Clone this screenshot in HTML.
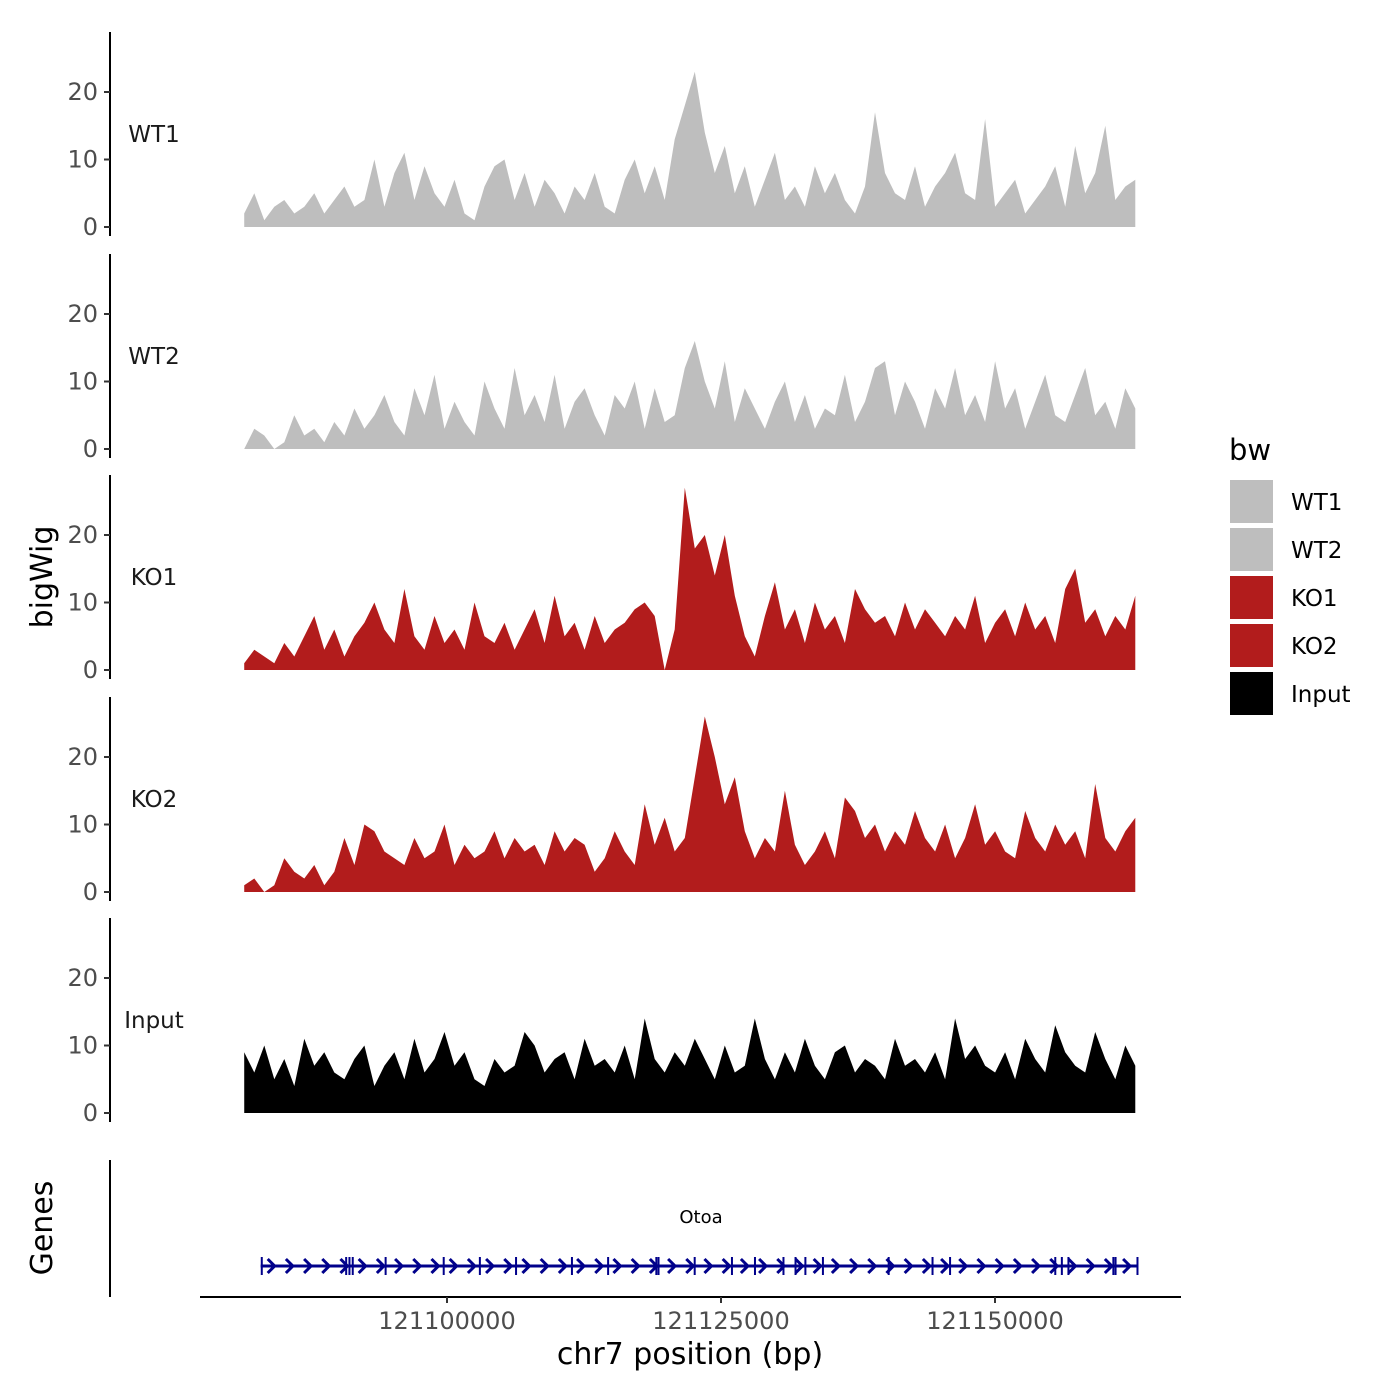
<!DOCTYPE html>
<html><head><meta charset="utf-8"><style>
body{margin:0;background:#fff}
svg{display:block;font-family:"DejaVu Sans","Liberation Sans",sans-serif}
</style></head><body>
<svg id="c" width="1400" height="1400" viewBox="0 0 1400 1400"></svg>
<script>
const tracks=["WT1","WT2","KO1","KO2","Input"];
const trackColors=["#bebebe","#bebebe","#b21c1c","#b21c1c","#000000"];
const wt1=[2,5,1,3,4,2,3,5,2,4,6,3,4,10,3,8,11,4,9,5,3,7,2,1,6,9,10,4,8,3,7,5,2,6,4,8,3,2,7,10,5,9,4,13,18,23,14,8,12,5,9,3,7,11,4,6,3,9,5,8,4,2,6,17,8,5,4,9,3,6,8,11,5,4,16,3,5,7,2,4,6,9,3,12,5,8,15,4,6,7];
const wt2=[0,3,2,0,1,5,2,3,1,4,2,6,3,5,8,4,2,9,5,11,3,7,4,2,10,6,3,12,5,8,4,11,3,7,9,5,2,8,6,10,3,9,4,5,12,16,10,6,13,4,9,6,3,7,10,4,8,3,6,5,11,4,7,12,13,5,10,7,3,9,6,12,5,8,4,13,6,9,3,7,11,5,4,8,12,5,7,3,9,6];
const ko1=[1,3,2,1,4,2,5,8,3,6,2,5,7,10,6,4,12,5,3,8,4,6,3,10,5,4,7,3,6,9,4,11,5,7,3,8,4,6,7,9,10,8,0,6,27,18,20,14,20,11,5,2,8,13,6,9,4,10,6,8,4,12,9,7,8,5,10,6,9,7,5,8,6,11,4,7,9,5,10,6,8,4,12,15,7,9,5,8,6,11];
const ko2=[1,2,0,1,5,3,2,4,1,3,8,4,10,9,6,5,4,8,5,6,10,4,7,5,6,9,5,8,6,7,4,9,6,8,7,3,5,9,6,4,13,7,11,6,8,17,26,20,13,17,9,5,8,6,15,7,4,6,9,5,14,12,8,10,6,9,7,12,8,6,10,5,8,13,7,9,6,5,12,8,6,10,7,9,5,16,8,6,9,11];
const inputv=[9,6,10,5,8,4,11,7,9,6,5,8,10,4,7,9,5,11,6,8,12,7,9,5,4,8,6,7,12,10,6,8,9,5,11,7,8,6,10,5,14,8,6,9,7,11,8,5,10,6,7,14,8,5,9,6,11,7,5,9,10,6,8,7,5,11,7,8,6,9,5,14,8,10,7,6,9,5,11,8,6,13,9,7,6,12,8,5,10,7];
const series=[wt1,wt2,ko1,ko2,inputv];
const yTicks=[0,10,20];
const xTicks=[121100000,121125000,121150000];
const xTickLabels=["121100000","121125000","121150000"];
const trackStart=121081500, trackEnd=121162800;
const geneStart=121083000, geneEnd=121163000;
const exons=[121083100,121090800,121091100,121091400,121094400,121099700,121103000,121106300,121111400,121114700,121119100,121119300,121122600,121126000,121128100,121130700,121131800,121132700,121134300,121140300,121144300,121145900,121155500,121156100,121156700,121160800,121161000,121163000];

const S=document.getElementById('c');const NS="http://www.w3.org/2000/svg";
function mk(t,a,p){const e=document.createElementNS(NS,t);for(const k in a)e.setAttribute(k,a[k]);(p||S).appendChild(e);return e;}
const xs=v=>447+(v-121100000)*274/25000;
const zeros=[227,449,670,892,1113];
const ys=(i,v)=>zeros[i]-v*6.75;

tracks.forEach((name,i)=>{
  const g=mk('g',{});
  
  
  const ax=mk('line',{x1:110,x2:110,y1:zeros[i]-195,y2:zeros[i]+9,stroke:'#000','stroke-width':2},g);
  
  
  yTicks.forEach(t=>{
    mk('line',{x1:104,x2:110,y1:ys(i,t),y2:ys(i,t),stroke:'#333','stroke-width':2},g);
    const tx=mk('text',{x:98,y:ys(i,t)+8,'text-anchor':'end','font-size':24,fill:'#4d4d4d'},g);
    tx.textContent=t;
    
    
  });
  const lb=mk('text',{x:154,y:zeros[i]-85,'text-anchor':'middle','font-size':23,fill:'#1a1a1a'},g);
  lb.textContent=name;
  
  
  const vals=series[i];const n=vals.length;
  let d='M'+xs(trackStart)+','+zeros[i];
  vals.forEach((v,j)=>{const p=trackStart+(trackEnd-trackStart)*j/(n-1);d+=' L'+xs(p).toFixed(1)+','+ys(i,v).toFixed(1);});
  d+=' L'+xs(trackEnd)+','+zeros[i]+' Z';
  const ar=mk('path',{d:d,fill:trackColors[i]},g);
  
  
});
const ya=mk('text',{x:0,y:0,'font-size':30,fill:'#000','text-anchor':'middle',transform:'translate(52,577) rotate(-90)'});
ya.textContent='bigWig';


const ga=mk('line',{x1:110,x2:110,y1:1160,y2:1297,stroke:'#000','stroke-width':2});


const gt=mk('text',{x:0,y:0,'font-size':30,fill:'#000','text-anchor':'middle',transform:'translate(52,1228) rotate(-90)'});
gt.textContent='Genes';


const gg=mk('g',{stroke:'#00008b',fill:'none','stroke-width':3});


mk('line',{x1:xs(geneStart),x2:xs(geneEnd),y1:1266,y2:1266},gg);
for(let x=xs(geneStart)+12;x<xs(geneEnd)-4;x+=18.2){mk('polyline',{points:`${x-5},1259 ${x+2},1266 ${x-5},1273`,'stroke-width':3},gg);}
exons.forEach(e=>{mk('line',{x1:xs(e),x2:xs(e),y1:1257,y2:1275,'stroke-width':2},gg);});
const gl=mk('text',{x:701,y:1223,'text-anchor':'middle','font-size':18,fill:'#000'});
gl.textContent='Otoa';


const xa=mk('line',{x1:200,x2:1181,y1:1297,y2:1297,stroke:'#000','stroke-width':2});


xTicks.forEach((t,k)=>{
  mk('line',{x1:xs(t),x2:xs(t),y1:1297,y2:1303,stroke:'#333','stroke-width':2});
  const tx=mk('text',{x:xs(t),y:1329,'text-anchor':'middle','font-size':24,fill:'#4d4d4d'});
  tx.textContent=xTickLabels[k];
  
  
});
const xt=mk('text',{x:690,y:1364,'text-anchor':'middle','font-size':30,fill:'#000'});
xt.textContent='chr7 position (bp)';


const lt=mk('text',{x:1229,y:460,'font-size':29,fill:'#000'});
lt.textContent='bw';


tracks.forEach((name,i)=>{
  const y=480+i*48;
  const r=mk('rect',{x:1230,y:y,width:43,height:43,fill:trackColors[i]});
  
  
  const tx=mk('text',{x:1291,y:y+30,'font-size':23,fill:'#000'});
  tx.textContent=name;
  
  
});
</script>
</body></html>
